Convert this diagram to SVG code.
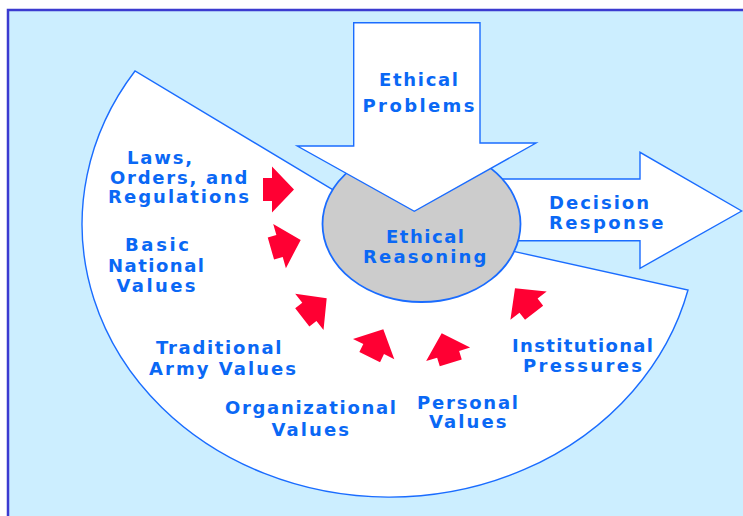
<svg xmlns="http://www.w3.org/2000/svg" width="743" height="516" viewBox="0 0 743 516">
<defs>
<style>
.shape{fill:#ffffff;stroke:#1a6cff;stroke-width:1.4;stroke-linejoin:miter}
.core{fill:#cccccc;stroke:#1a6cff;stroke-width:1.8}
.lbl{font-family:"DejaVu Sans",Verdana,"Liberation Sans",sans-serif;font-weight:bold;font-size:18px;fill:#0a68f5}
.red{fill:#ff0033}
</style>
<polygon id="redArrow" points="0,0 -22,23 -22,11.5 -31,11.5 -31,-11.5 -22,-11.5 -22,-23"/>
</defs>
<rect x="0" y="0" width="743" height="516" fill="#ffffff"/>
<rect id="frame" x="8" y="10" width="760" height="530" fill="#cceeff" stroke="#3b3bd0" stroke-width="2.5"/>
<g id="influences-sector">
<path class="shape" d="M390 224 L688 290 A307.5 273 0 1 1 135 71 Z"/>
</g>
<g id="decision-response">
<polygon class="shape" points="470,179 640,179 640,152.3 741.7,211 640,268.3 640,240.7 470,240.7"/>
<text class="lbl" x="549" y="209" textLength="100" lengthAdjust="spacing">Decision</text>
<text class="lbl" x="549" y="229.3" textLength="114.5" lengthAdjust="spacing">Response</text>
</g>
<g id="ethical-reasoning">
<ellipse class="core" cx="421.5" cy="224" rx="99" ry="78"/>
</g>
<g id="ethical-problems">
<polygon class="shape" points="353.7,22.7 480,22.7 480,143 536,143 414.3,211.3 297.3,146 353.7,146"/>
<text class="lbl" x="379" y="86" textLength="79" lengthAdjust="spacing">Ethical</text>
<text class="lbl" x="362.5" y="111.5" textLength="112" lengthAdjust="spacing">Problems</text>
</g>
<g id="ethical-reasoning-label">
<text class="lbl" x="386" y="243.3" textLength="78" lengthAdjust="spacing">Ethical</text>
<text class="lbl" x="363" y="263.3" textLength="123.5" lengthAdjust="spacing">Reasoning</text>
</g>
<g id="connectors">
<use href="#redArrow" class="red" transform="translate(294,189.5) rotate(0)"/>
<use href="#redArrow" class="red" transform="translate(300.7,240) rotate(-16)"/>
<use href="#redArrow" class="red" transform="translate(326.7,298.3) rotate(-38)"/>
<use href="#redArrow" class="red" transform="translate(383.3,329.3) rotate(-64)"/>
<use href="#redArrow" class="red" transform="translate(441.7,333.3) rotate(-107)"/>
<use href="#redArrow" class="red" transform="translate(515,288.3) rotate(-128)"/>
</g>
<g id="laws">
<text class="lbl" x="127" y="164" textLength="65" lengthAdjust="spacing">Laws,</text>
<text class="lbl" x="110" y="183.7" textLength="137.5" lengthAdjust="spacing">Orders, and</text>
<text class="lbl" x="108" y="203.3" textLength="141" lengthAdjust="spacing">Regulations</text>
</g>
<g id="basic-national-values">
<text class="lbl" x="125" y="251" textLength="64" lengthAdjust="spacing">Basic</text>
<text class="lbl" x="108" y="271.7" textLength="96" lengthAdjust="spacing">National</text>
<text class="lbl" x="116.5" y="291.7" textLength="79" lengthAdjust="spacing">Values</text>
</g>
<g id="traditional-army-values">
<text class="lbl" x="156" y="354.3" textLength="125.5" lengthAdjust="spacing">Traditional</text>
<text class="lbl" x="149" y="375" textLength="147" lengthAdjust="spacing">Army Values</text>
</g>
<g id="organizational-values">
<text class="lbl" x="225" y="414.3" textLength="171" lengthAdjust="spacing">Organizational</text>
<text class="lbl" x="271.5" y="435.7" textLength="77.5" lengthAdjust="spacing">Values</text>
</g>
<g id="personal-values">
<text class="lbl" x="417" y="409" textLength="101" lengthAdjust="spacing">Personal</text>
<text class="lbl" x="429" y="428.3" textLength="77.5" lengthAdjust="spacing">Values</text>
</g>
<g id="institutional-pressures">
<text class="lbl" x="512" y="352" textLength="141" lengthAdjust="spacing">Institutional</text>
<text class="lbl" x="523" y="372" textLength="119" lengthAdjust="spacing">Pressures</text>
</g>
</svg>
